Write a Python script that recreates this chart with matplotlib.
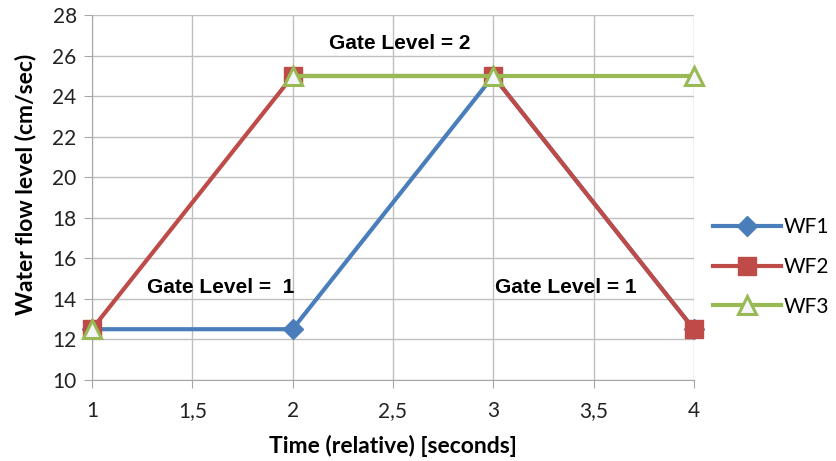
import matplotlib
matplotlib.use("Agg")
import matplotlib.pyplot as plt

# data
time = [1, 2, 3, 4]
wf1 = [12.5, 12.5, 25, 12.5]
wf2 = [12.5, 25, 25, 12.5]
wf3 = [12.5, 25, 25, 25]
xticks = [1, 1.5, 2, 2.5, 3, 3.5, 4]
xtick_labels = ["1", "1,5", "2", "2,5", "3", "3,5", "4"]
yticks = [10, 12, 14, 16, 18, 20, 22, 24, 26, 28]

plt.rcParams['font.family'] = ['Lato', 'DejaVu Sans']

fig = plt.figure(figsize=(8.36, 4.61), dpi=100)
ax = fig.add_axes([0.110, 0.176, 0.720, 0.791])

blue, red, green = '#4A7EBB', '#BE4B48', '#98B954'

ax.plot(time, wf1, color=blue, lw=3, marker='D', ms=10, label='WF1', zorder=3, clip_on=False)
ax.plot(time, wf2, color=red, lw=3, marker='s', ms=13, label='WF2', zorder=4, clip_on=False)
# WF3: first point is not joined to the rest
ax.plot(time[1:], wf3[1:], color=green, lw=3, zorder=5, clip_on=False)
ax.plot(time, wf3, color=green, lw=0, marker='^', ms=13, mfc='#F4F6FA', mec=green,
        mew=2.2, zorder=6, clip_on=False)
ax.plot([], [], color=green, lw=3, marker='^', ms=13, mfc='#F4F6FA', mec=green,
        mew=2.2, label='WF3')

ax.set_xlim(1, 4)
ax.set_ylim(10, 28)
ax.set_xticks(xticks)
ax.set_xticklabels(xtick_labels)
ax.set_yticks(yticks)
ax.grid(True, color='#BFBFBF', lw=1)
ax.set_axisbelow(True)
for s in ['top', 'right']:
    ax.spines[s].set_visible(False)
for s in ['left', 'bottom']:
    ax.spines[s].set_color('#A6A6A6')
ax.tick_params(axis='both', colors='#A6A6A6', labelcolor='#222222', labelsize=15, length=6)
ax.tick_params(axis='x', pad=9)
ax.tick_params(axis='y', pad=5)

ax.set_xlabel('Time (relative) [seconds]', fontsize=16.5, fontweight='bold', labelpad=10)
ax.set_ylabel('Water flow level (cm/sec)', fontsize=16.5, fontweight='bold', va='center')
ax.yaxis.set_label_coords(-0.11, 0.537)

ann = dict(ha='center', va='center', fontsize=15, fontweight='bold',
           family=['Liberation Sans', 'DejaVu Sans'])
ax.text(2.535, 26.62, 'Gate Level = 2', **ann)
ax.text(1.64, 14.55, 'Gate Level =  1', **ann)
ax.text(3.36, 14.55, 'Gate Level = 1', **ann)

ax.legend(loc='center left', bbox_to_anchor=(1.0, 0.31), frameon=False, fontsize=15,
          labelspacing=0.95, handlelength=3.3, handletextpad=0.1)

fig.savefig('out.png', dpi=100)
